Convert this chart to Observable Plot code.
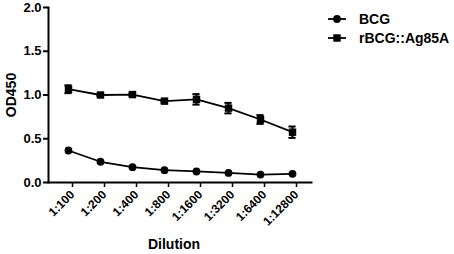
<!DOCTYPE html>
<html>
<head>
<meta charset="utf-8">
<script src="https://cdn.jsdelivr.net/npm/d3@7"></script>
<script src="https://cdn.jsdelivr.net/npm/@observablehq/plot@0.6"></script>
<style>
  html, body { margin: 0; padding: 0; background: #fff; }
</style>
</head>
<body>
<div id="chart"></div>
<script>
const dilutions = ["1:100", "1:200", "1:400", "1:800", "1:1600", "1:3200", "1:6400", "1:12800"];
const bcg = [0.366, 0.237, 0.175, 0.141, 0.126, 0.110, 0.091, 0.099];
const bcgErr = [0.01, 0.008, 0.008, 0.006, 0.006, 0.006, 0.005, 0.005];
const rbcg = [1.066, 1.000, 1.005, 0.930, 0.950, 0.850, 0.720, 0.575];
const rbcgErr = [0.045, 0.01, 0.015, 0.015, 0.06, 0.06, 0.05, 0.065];
const yTicks = [0, 0.5, 1.0, 1.5, 2.0];
const seriesNames = ["BCG", "rBCG::Ag85A"];

const rows = [];
dilutions.forEach((d, i) => {
  rows.push({series: seriesNames[0], dilution: d, v: bcg[i], lo: bcg[i] - bcgErr[i], hi: bcg[i] + bcgErr[i]});
  rows.push({series: seriesNames[1], dilution: d, v: rbcg[i], lo: rbcg[i] - rbcgErr[i], hi: rbcg[i] + rbcgErr[i]});
});
const rA = rows.filter(r => r.series === seriesNames[0]);
const rB = rows.filter(r => r.series === seriesNames[1]);

const font = "'Liberation Sans', Arial, sans-serif";
const capInset = 12.4;

const chart = Plot.plot({
  width: 454,
  height: 254,
  marginLeft: 48,
  marginRight: 143,
  marginTop: 7,
  marginBottom: 72,
  style: {fontFamily: font, fontSize: "12px", fontWeight: "bold", color: "#000", background: "#fff", overflow: "visible"},
  x: {type: "band", domain: dilutions, padding: 0},
  y: {domain: [0, 2], ticks: yTicks},
  marks: [
    Plot.frame({anchor: "left", strokeWidth: 2}),
    Plot.frame({anchor: "bottom", strokeWidth: 2}),
    Plot.axisY({ticks: yTicks, tickFormat: d3.format(".1f"), tickSize: 5, strokeWidth: 2, tickPadding: 2, fontSize: 13,
      label: "OD450", labelAnchor: "center", labelOffset: 42}),
    Plot.axisX({tickSize: 5, strokeWidth: 1.5, tickRotate: -45, tickPadding: 5, dx: 4, fontSize: 12,
      label: "Dilution", labelAnchor: "center", labelOffset: 66}),
    Plot.ruleX(rB, {x: "dilution", y1: "lo", y2: "hi", stroke: "#000", strokeWidth: 2}),
    Plot.tickY(rB, {x: "dilution", y: "lo", stroke: "#000", strokeWidth: 2, insetLeft: capInset, insetRight: capInset}),
    Plot.tickY(rB, {x: "dilution", y: "hi", stroke: "#000", strokeWidth: 2, insetLeft: capInset, insetRight: capInset}),
    Plot.line(rA, {x: "dilution", y: "v", stroke: "#000", strokeWidth: 1.8}),
    Plot.line(rB, {x: "dilution", y: "v", stroke: "#000", strokeWidth: 1.8}),
    Plot.dot(rA, {x: "dilution", y: "v", r: 3.9, fill: "#000", stroke: "none", symbol: "circle"}),
    Plot.dot(rB, {x: "dilution", y: "v", r: 4.2, fill: "#000", stroke: "none", symbol: "square"})
  ]
});

d3.select(chart).selectAll("[aria-label='x-axis label'] text, [aria-label='y-axis label'] text")
  .style("font-size", "14px").style("font-weight", "bold");
d3.select(chart).selectAll("[aria-label='x-axis label'] text").text("Dilution").attr("dx", -6);
d3.select(chart).selectAll("[aria-label='y-axis label'] text").text("OD450");

// legend
const svg = d3.select(chart);
const leg = svg.append("g").attr("font-family", font).attr("font-size", "14px").attr("font-weight", "bold").attr("text-anchor", "start");
const items = [{name: seriesNames[0], sym: d3.symbolCircle, size: Math.PI * 3.9 * 3.9, y: 19},
               {name: seriesNames[1], sym: d3.symbolSquare, size: Math.PI * 4.2 * 4.2, y: 38}];
items.forEach(it => {
  leg.append("line").attr("x1", 328).attr("x2", 346).attr("y1", it.y).attr("y2", it.y)
    .attr("stroke", "#000").attr("stroke-width", 1.8);
  leg.append("path").attr("d", d3.symbol(it.sym, it.size)()).attr("transform", `translate(337,${it.y})`).attr("fill", "#000");
  leg.append("text").attr("x", 359).attr("y", it.y).attr("dy", "0.36em").attr("fill", "#000").text(it.name);
});

document.getElementById("chart").appendChild(chart);
</script>
</body>
</html>
